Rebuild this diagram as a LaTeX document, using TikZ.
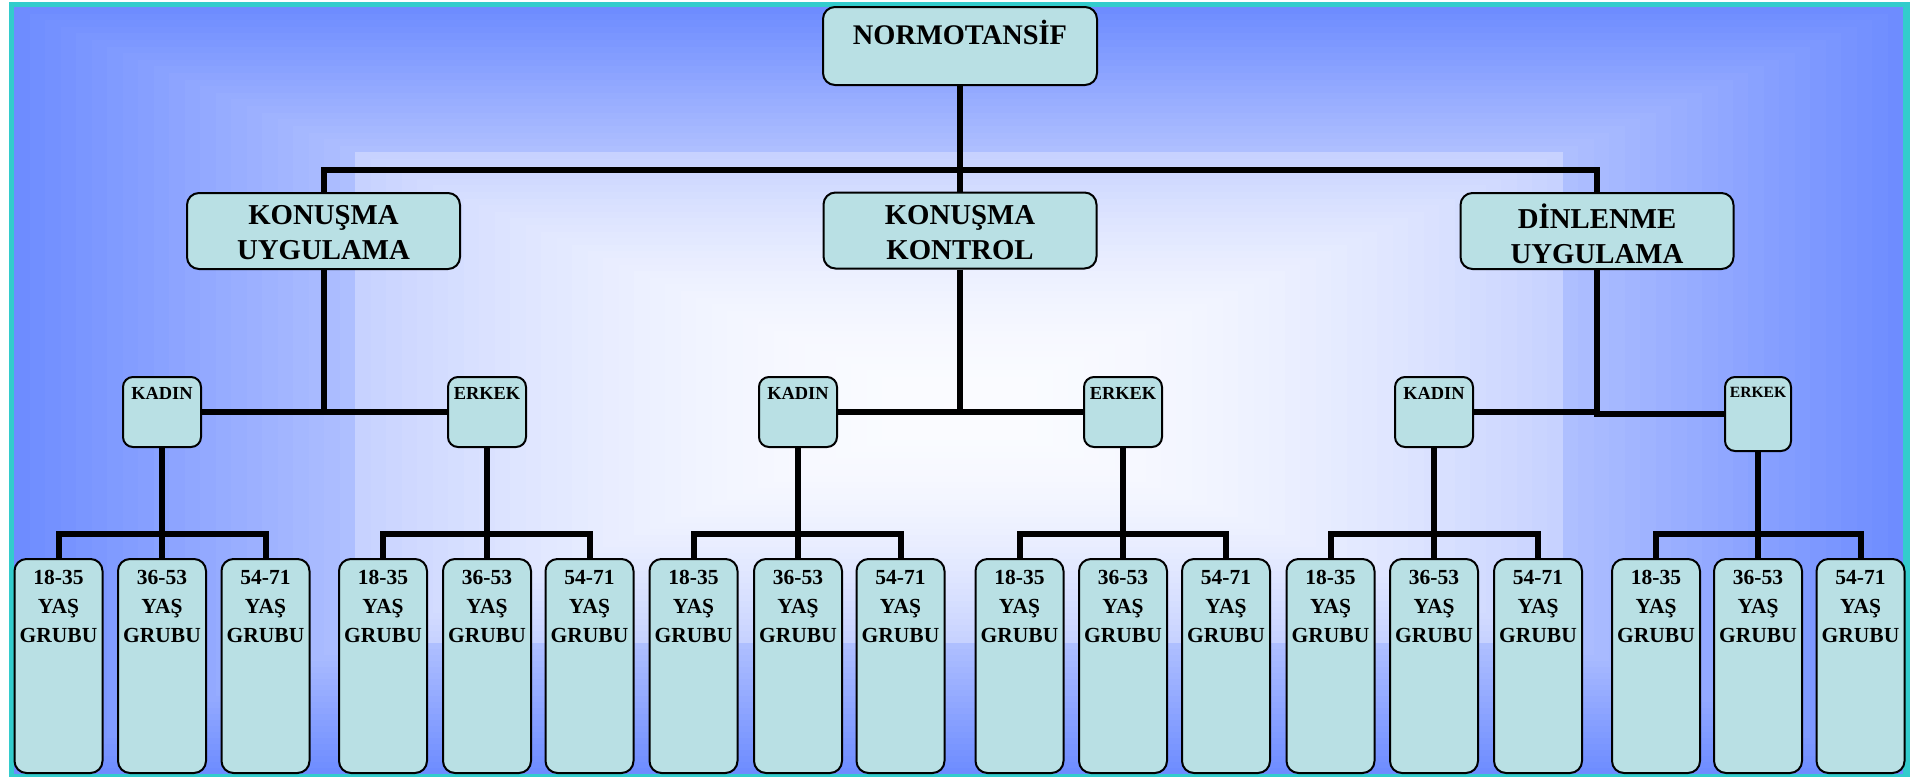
\documentclass[tikz,border=0pt]{standalone}
\usepackage{fontspec}
\setmainfont{Liberation Serif}
\definecolor{bgblue}{RGB}{110,140,255}
\definecolor{framecyan}{RGB}{51,204,204}
\definecolor{boxfill}{RGB}{185,224,228}
\begin{document}
\begin{tikzpicture}[x=0.5pt,y=-0.5pt,
  box/.style={draw=black,line width=1pt,fill=boxfill,rounded corners=6pt,inner sep=0pt},
  topbox/.style={box,minimum width=137pt,minimum height=39pt},
  midbox/.style={box,minimum width=136.5pt,minimum height=38pt},
  sexbox/.style={box,rounded corners=5pt,minimum width=39pt,minimum height=35pt},
  leafbox/.style={box,minimum width=44pt,minimum height=107pt},
  bigtext/.style={font=\bfseries\fontsize{14.2}{17}\selectfont,align=center,inner sep=0pt},
  midtext/.style={font=\bfseries\fontsize{14.4}{17.5}\selectfont,align=center,inner sep=0pt},
  sextext/.style={font=\bfseries\fontsize{9.2}{11}\selectfont,inner sep=0pt},
  smalltext/.style={font=\bfseries\fontsize{7.8}{9}\selectfont,inner sep=0pt},
  leaftext/.style={font=\bfseries\fontsize{10.75}{14.5}\selectfont,align=center,inner sep=0pt},
  conn/.style={line width=3pt,draw=black}]
\useasboundingbox (0,0) rectangle (1910,777);
\fill[white] (0,0) rectangle (1910,777);
\fill[framecyan] (9,1.5) rectangle (1910,777);
% background rectangular gradient
\foreach \i in {0,...,60} {
  \pgfmathsetmacro\s{\i/61}
  \pgfmathsetmacro\p{\s<0.35 ? 45*\s/0.35 : 97-37*((1-\s)/0.65)^2}
  \fill[white!\p!bgblue] ({14+\s*(960-14)},{7+\s*(410-7)}) rectangle ({1903-\s*(1903-960)},{774-\s*(774-410)});
}
% level 1
\node[topbox] (root) at (960,46) {};
\node[bigtext] (rootT) at (960,32) {NORMOTANSİF};
% level 2
\node[midbox] (KU) at (323.5,231) {};
\node[midtext] (KUT) at (323.5,232.5) {KONUŞMA\\UYGULAMA};
\node[midbox] (KK) at (960,230.5) {};
\node[midtext] (KKT) at (960,232.5) {KONUŞMA\\KONTROL};
\node[midbox] (DU) at (1597,231) {};
\node[midtext] (DUT) at (1597,233.5) {DİNLENME\\UYGULAMA};
% level 3
\node[sexbox] (K1) at (162,412) {};
\node[sextext] (K1T) at (162,393) {KADIN};
\node[sexbox] (E1) at (487,412) {};
\node[sextext] (E1T) at (487,393) {ERKEK};
\node[sexbox] (K2) at (798,412) {};
\node[sextext] (K2T) at (798,393) {KADIN};
\node[sexbox] (E2) at (1123,412) {};
\node[sextext] (E2T) at (1123,393) {ERKEK};
\node[sexbox] (K3) at (1434,412) {};
\node[sextext] (K3T) at (1434,393) {KADIN};
\node[sexbox,minimum width=33pt,minimum height=37pt] (E3) at (1758,414) {};
\node[smalltext] (E3T) at (1758,392) {ERKEK};
% leaves
\foreach \n/\x/\lab in {1/58.5/18-35,2/162/36-53,3/265.5/54-71,
  4/383/18-35,5/487/36-53,6/589.5/54-71,
  7/693.5/18-35,8/798/36-53,9/900.5/54-71,
  10/1019.5/18-35,11/1123/36-53,12/1226/54-71,
  13/1330.5/18-35,14/1434/36-53,15/1538/54-71,
  16/1656/18-35,17/1758/36-53,18/1860.5/54-71} {
  \node[leafbox] (L\n) at (\x,666) {};
  \node[leaftext] (T\n) at (\x,606) {\lab\\YAŞ\\GRUBU};
}
% connectors level 1-2
\coordinate (bar1) at (960,170);
\draw[conn] (root.south) -- (KK.north);
\draw[conn] (KU.north) |- (bar1) -| (DU.north);
% level 2-3
\draw[conn] (K1.east) -- (E1.west);
\draw[conn] (KU.south) -- (KU.south |- K1.east);
\draw[conn] (K2.east) -- (E2.west);
\draw[conn] (KK.south) -- (KK.south |- K2.east);
\draw[conn] (K3.east) -- (K3.east -| DU.south);
\draw[conn] (DU.south) -- (DU.south |- E3.west) -- (E3.west);
% level 3-4
\foreach \b/\a/\m/\c in {K1/1/2/3,E1/4/5/6,K2/7/8/9,E2/10/11/12,K3/13/14/15,E3/16/17/18} {
  \draw[conn] (\b.south) -- (L\m.north);
  \draw[conn] (L\a.north) |- ([yshift=12pt]L\m.north) -| (L\c.north);
}
\end{tikzpicture}
\end{document}
